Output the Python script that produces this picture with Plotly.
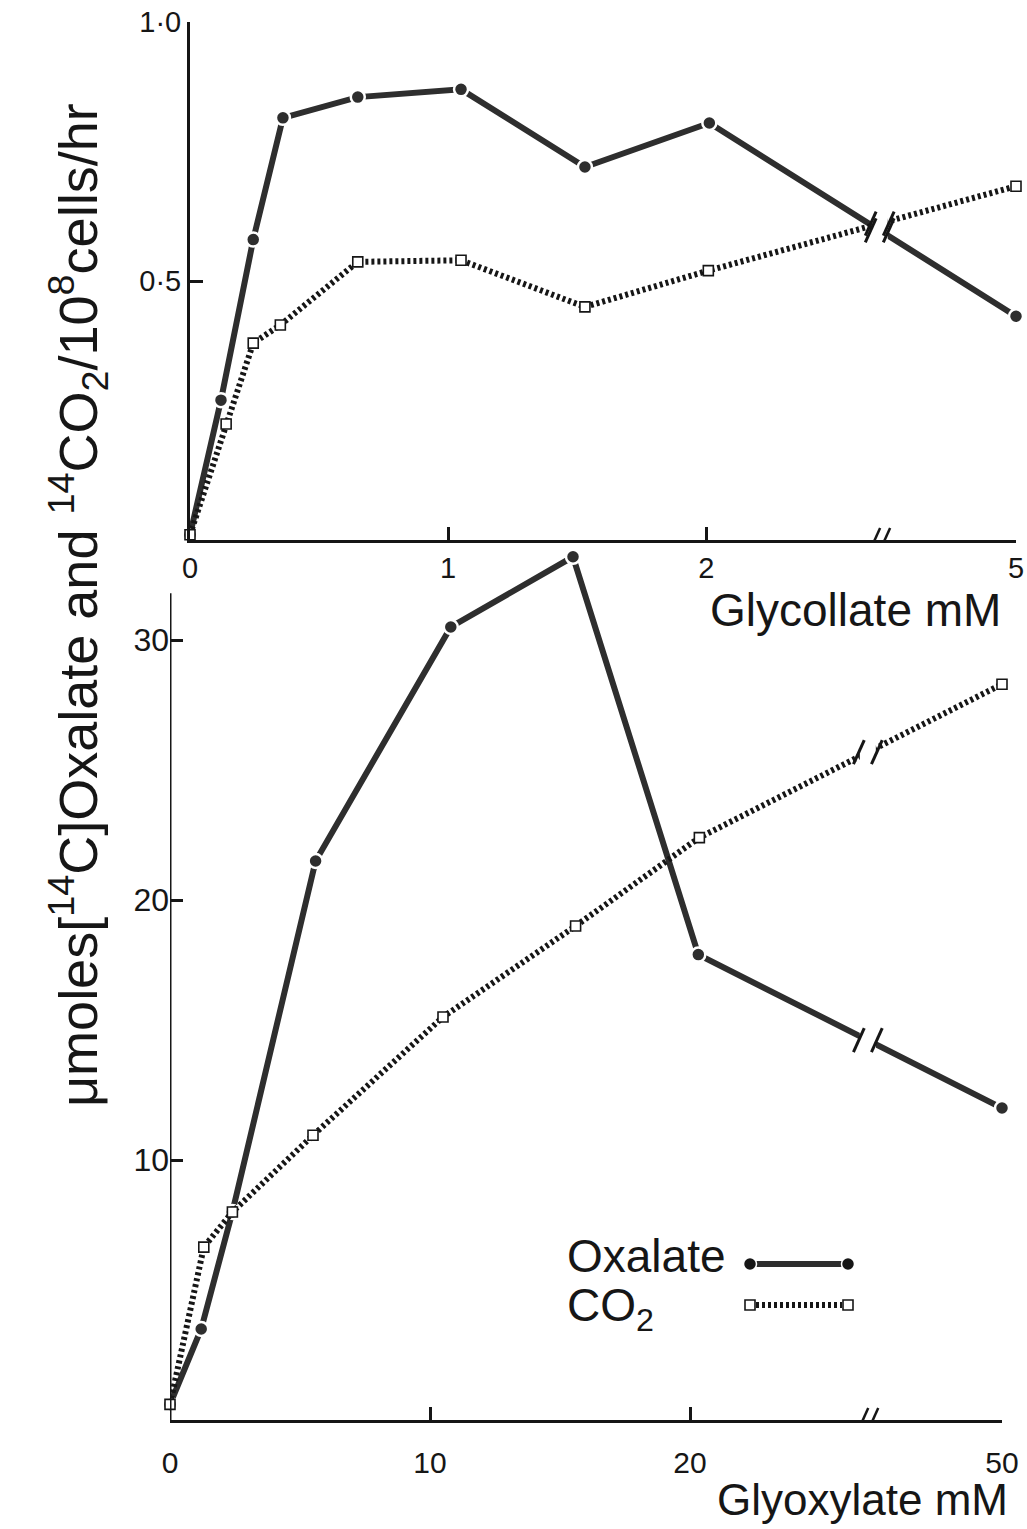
import plotly.graph_objects as go

# top panel: glycollate (mM) vs umoles / 10^8 cells / hr
gc_ox_x = [0, 0.12, 0.245, 0.36, 0.65, 1.05, 1.53, 2.03, 5]
gc_ox_y = [0.01, 0.27, 0.58, 0.815, 0.855, 0.87, 0.72, 0.805, 0.432]
gc_co2_x = [0, 0.14, 0.245, 0.35, 0.65, 1.05, 1.53, 2.02, 5]
gc_co2_y = [0.01, 0.224, 0.38, 0.415, 0.537, 0.54, 0.45, 0.52, 0.683]
gc_xticks = [0, 1, 2, 5]
gc_yticks = [0.5, 1.0]
gc_ytick_text = ["0·5", "1·0"]

# bottom panel: glyoxylate (mM)
gx_ox_x = [0, 1.2, 2.4, 5.6, 10.8, 15.5, 20.8, 50]
gx_ox_y = [0.6, 3.5, 8.0, 21.5, 30.5, 33.2, 17.9, 12.0]
gx_co2_x = [0, 1.3, 2.4, 5.5, 10.5, 15.6, 20.9, 50]
gx_co2_y = [0.6, 6.65, 8.0, 10.95, 15.5, 19.0, 22.4, 28.3]
gx_xticks = [0, 10, 20, 50]
gx_yticks = [10, 20, 30]

W, H = 1027, 1529
INK = "#161616"
OX = "#2e2e2e"
FONT = "Liberation Sans, Arial, sans-serif"


def px(p):
    return p / W


def py(p):
    return 1 - p / H


def broken(vals, lim, far, far_pos):
    # compress everything past `lim` so that `far` sits at `far_pos`
    out = []
    for v in vals:
        if v <= lim:
            out.append(v)
        else:
            out.append(lim + (v - lim) / (far - lim) * (far_pos - lim))
    return out


TOP = dict(lim=2, far=5, far_pos=3.2)
BOT = dict(lim=20, far=50, far_pos=32)
top_brk = TOP["lim"] + 0.56 * (TOP["far_pos"] - TOP["lim"])
bot_brk = BOT["lim"] + 0.57 * (BOT["far_pos"] - BOT["lim"])

fig = go.Figure()


def add_series(x, y, xa, ya, cfg, kind):
    xs = broken(x, **cfg)
    if kind == "ox":
        line = dict(color=OX, width=6)
        marker = dict(symbol="circle", size=14, color=OX, line=dict(color="white", width=2.5))
    else:
        line = dict(color=INK, width=6, dash="3px,3px")
        marker = dict(symbol="square", size=10, color="white", line=dict(color=INK, width=1.6))
    fig.add_trace(go.Scatter(
        x=xs, y=y, xaxis=xa, yaxis=ya, mode="lines+markers",
        line=line, marker=marker, cliponaxis=False, showlegend=False,
        hoverinfo="skip",
    ))
    return xs


def break_y(xs, y, xb):
    x0, x1, y0, y1 = xs[-2], xs[-1], y[-2], y[-1]
    return y0 + (xb - x0) / (x1 - x0) * (y1 - y0)


shapes = []


def slash(xref, yref, xa, ya, dx, half=12, w=3):
    return dict(type="line", xref=xref, yref=yref, xsizemode="pixel", ysizemode="pixel",
                xanchor=xa, yanchor=ya, x0=dx - half * 0.45, x1=dx + half * 0.45,
                y0=-half, y1=half, line=dict(color=INK, width=w), layer="above")


def gap(xref, yref, xa, y0, y1, half=8):
    return dict(type="rect", xref=xref, yref=yref, xsizemode="pixel", xanchor=xa,
                x0=-half, x1=half, y0=y0, y1=y1, fillcolor="white",
                line=dict(width=0), layer="above")


# top panel
tx1 = add_series(gc_ox_x, gc_ox_y, "x", "y", TOP, "ox")
tx2 = add_series(gc_co2_x, gc_co2_y, "x", "y", TOP, "co2")
shapes.append(gap("x", "y", top_brk, 0.08, 0.98))
for xs, ys in [(tx1, gc_ox_y), (tx2, gc_co2_y)]:
    yb = break_y(xs, ys, top_brk)
    shapes.append(slash("x", "y", top_brk, yb, -9))
    shapes.append(slash("x", "y", top_brk, yb, 9))

# bottom panel
bx1 = add_series(gx_ox_x, gx_ox_y, "x2", "y2", BOT, "ox")
bx2 = add_series(gx_co2_x, gx_co2_y, "x2", "y2", BOT, "co2")
shapes.append(gap("x2", "y2", bot_brk, 1.5, 33))
for xs, ys in [(bx1, gx_ox_y), (bx2, gx_co2_y)]:
    yb = break_y(xs, ys, bot_brk)
    shapes.append(slash("x2", "y2", bot_brk, yb, -9))
    shapes.append(slash("x2", "y2", bot_brk, yb, 9))

# axis breaks "//"
for xref, yref, xb in [("x", "y", top_brk), ("x2", "y2", bot_brk)]:
    shapes.append(dict(type="rect", xref=xref, yref=yref, xsizemode="pixel", ysizemode="pixel",
                       xanchor=xb, yanchor=0, x0=-5, x1=5, y0=-3, y1=3,
                       fillcolor="white", line=dict(width=0), layer="above"))
    shapes.append(slash(xref, yref, xb, 0, -5, half=12, w=2.5))
    shapes.append(slash(xref, yref, xb, 0, 5, half=12, w=2.5))

# bottom y-axis line stops short of the panel top
shapes.append(dict(type="line", xref="x2", yref="y2", x0=0, x1=0, y0=0, y1=31.8,
                   line=dict(color=INK, width=3)))

# legend samples
lx0, lx1 = 750, 848
ly_ox, ly_co2 = 1264, 1305
shapes.append(dict(type="line", xref="paper", yref="paper", x0=px(lx0), x1=px(lx1),
                   y0=py(ly_ox), y1=py(ly_ox), line=dict(color=OX, width=6)))
shapes.append(dict(type="line", xref="paper", yref="paper", x0=px(lx0 + 6), x1=px(lx1 - 6),
                   y0=py(ly_co2), y1=py(ly_co2), line=dict(color=INK, width=6, dash="3px,3px")))
for lx in (lx0, lx1):
    shapes.append(dict(type="circle", xref="paper", yref="paper", xsizemode="pixel", ysizemode="pixel",
                       xanchor=px(lx), yanchor=py(ly_ox), x0=-6.5, x1=6.5, y0=-6.5, y1=6.5,
                       fillcolor=INK, line=dict(color="white", width=1.5), layer="above"))
    shapes.append(dict(type="rect", xref="paper", yref="paper", xsizemode="pixel", ysizemode="pixel",
                       xanchor=px(lx), yanchor=py(ly_co2), x0=-5, x1=5, y0=-5, y1=5,
                       fillcolor="white", line=dict(color=INK, width=1.6), layer="above"))

axis_common = dict(showgrid=False, zeroline=False, ticks="inside", ticklen=13, tickwidth=3,
                   tickcolor=INK, fixedrange=True, automargin=False)


def tfont(size):
    return dict(family=FONT, size=size, color=INK)


def label(text, x, y, size=46, **kw):
    return dict(text=text, x=px(x), y=py(y), xref="paper", yref="paper",
                xanchor=kw.pop("xanchor", "center"), yanchor="middle", showarrow=False,
                font=tfont(size), **kw)


fig.update_layout(
    width=W, height=H,
    margin=dict(l=0, r=0, t=0, b=0, autoexpand=False),
    paper_bgcolor="white", plot_bgcolor="white",
    xaxis=dict(domain=[px(190), px(1016)], range=[0, TOP["far_pos"]], anchor="y",
               tickvals=broken(gc_xticks, **TOP), ticktext=[str(v) for v in gc_xticks],
               ticklabelstandoff=0, tickfont=tfont(29),
               showline=True, linecolor=INK, linewidth=3, **axis_common),
    yaxis=dict(domain=[py(540), py(22)], range=[0, 1.0], anchor="x",
               tickvals=gc_yticks, ticktext=gc_ytick_text, tickfont=tfont(29),
               showline=True, linecolor=INK, linewidth=3, **axis_common),
    xaxis2=dict(domain=[px(170), px(1002)], range=[0, BOT["far_pos"]], anchor="y2",
                tickvals=broken(gx_xticks, **BOT), ticktext=[str(v) for v in gx_xticks],
                ticklabelstandoff=14, tickfont=tfont(30),
                showline=True, linecolor=INK, linewidth=3, **axis_common),
    yaxis2=dict(domain=[py(1420), py(540)], range=[0, 880 / 26], anchor="x2",
                tickvals=gx_yticks, tickfont=tfont(32), showline=False, **axis_common),
    shapes=shapes,
    annotations=[
        label("Glycollate mM", 855, 610),
        label("Glyoxylate mM", 862, 1499, size=44),
        label("μmoles[<sup>14</sup>C]Oxalate and <sup>14</sup>CO<sub>2</sub>/10<sup>8</sup>cells/hr",
              78, 605, size=54, textangle=-90),
        label("Oxalate", 565, 1256, xanchor="left"),
        label("CO<sub>2</sub>", 565, 1308, xanchor="left"),
    ],
)

fig.write_html(
    "out.html",
    config={"displayModeBar": False, "staticPlot": True},
    post_script="document.body.style.margin='0';"
                "document.documentElement.style.overflow='hidden';",
)
